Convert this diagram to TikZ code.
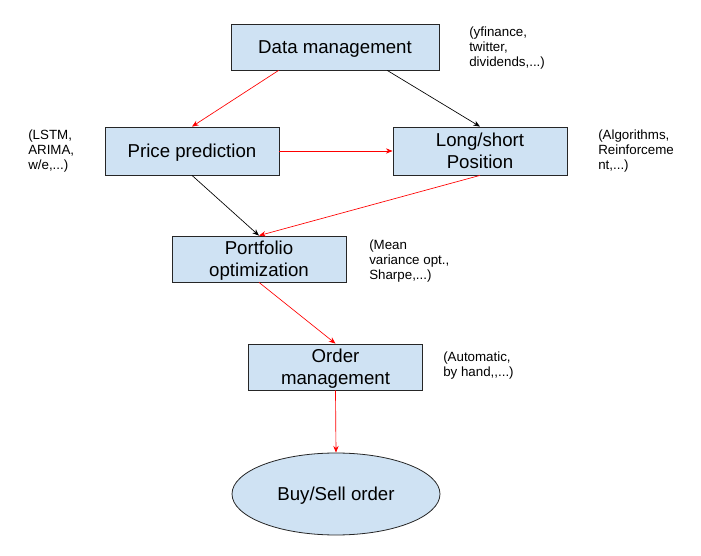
\documentclass[tikz,border=0pt]{standalone}
\usepackage{fontspec}
\setmainfont{Liberation Sans}
\usepackage{tikz}
\usetikzlibrary{arrows.meta,shapes.geometric,calc}
\definecolor{boxblue}{HTML}{CFE2F3}

\begin{document}
\begin{tikzpicture}[x=0.75pt,y=-0.75pt,
    stage/.style={draw=black!85, fill=boxblue, line width=0.6pt, align=center,
        font=\fontsize{14}{16.3}\selectfont, inner sep=0pt, text depth=0pt},
    note/.style={anchor=north west, align=left, inner sep=0pt,
        font=\fontsize{10}{11}\selectfont},
    redarrow/.style={draw=red, line width=0.5pt, -{Stealth[length=5pt,width=4pt]}},
    blackarrow/.style={draw=black, line width=0.5pt, -{Stealth[length=5pt,width=4pt]}}]
        \useasboundingbox (0,0) rectangle (701,556);
        % stages
        \node[stage, minimum width=156pt, minimum height=34.5pt] (data) at (335,47) {Data management};
        \node[stage, minimum width=130.5pt, minimum height=36pt] (price) at (192,151) {Price prediction};
        \node[stage, minimum width=130.5pt, minimum height=36pt] (longshort) at (480,151) {Long/short\\Position};
        \node[stage, minimum width=130.5pt, minimum height=34.5pt] (portfolio) at (259,259) {Portfolio\\optimization};
        \node[stage, minimum width=131pt, minimum height=34.5pt] (order) at (335.5,367) {Order\\management};
        \node[stage, ellipse, minimum width=156pt, minimum height=61.5pt] (buysell) at (336,494) {Buy/Sell order};
        % notes
        \node[note] (datanote) at (469,27) {(yfinance,\\twitter,\\dividends,...)};
        \node[note] (pricenote) at (28,130) {(LSTM,\\ARIMA,\\w/e,...)};
        \node[note] (longnote) at (598,130) {(Algorithms,\\Reinforceme\\nt,...)};
        \node[note] (portnote) at (369,240) {(Mean\\variance opt.,\\Sharpe,...)};
        \node[note] (ordernote) at (443,352) {(Automatic,\\by hand,{},...)};
        % connectors
        \draw[redarrow] ($(data.south west)!0.23!(data.south east)$) -- (price.north);
        \draw[blackarrow] ($(data.south west)!0.75!(data.south east)$) -- (longshort.north);
        \draw[redarrow] (price.east) -- (longshort.west);
        \draw[blackarrow] (price.south) -- (portfolio.north);
        \draw[redarrow] (longshort.south) -- (portfolio.north);
        \draw[redarrow] (portfolio.south) -- (order.north);
        \draw[redarrow] (order.south) -- (buysell.north);
\end{tikzpicture}
\end{document}
